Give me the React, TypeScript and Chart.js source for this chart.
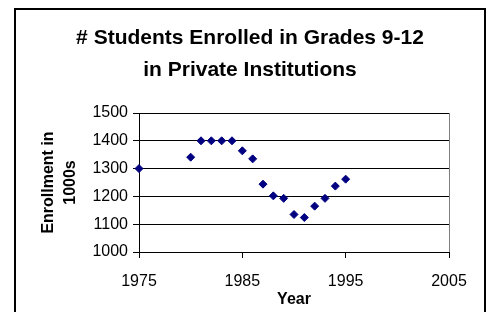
import React, { useEffect, useRef } from "react";
import { Chart, registerables } from "chart.js";

Chart.register(...registerables);

const years = [1975, 1980, 1981, 1982, 1983, 1984, 1985, 1986, 1987, 1988, 1989, 1990, 1991, 1992, 1993, 1994, 1995];
const enrollment = [1300, 1341, 1400, 1400, 1400, 1400, 1364, 1335, 1244, 1202, 1193, 1135, 1124, 1165, 1193, 1237, 1262];
const titleLines = ["# Students Enrolled in Grades 9-12", "in Private Institutions"];
const yTitleLines = ["Enrollment in", "1000s"];
const xTitle = "Year";
const xTicks = [1975, 1985, 1995, 2005];
const yTicks = [1000, 1100, 1200, 1300, 1400, 1500];

const FONT = "'Liberation Sans', Arial, sans-serif";

export default function App() {
  const ref = useRef<HTMLCanvasElement | null>(null);

  useEffect(() => {
    document.body.style.overflow = "hidden";
    const canvas = ref.current;
    if (!canvas) return;
    const chart = new Chart(canvas, {
      type: "scatter",
      data: {
        datasets: [
          {
            data: years.map((y, i) => ({ x: y, y: enrollment[i] })),
            backgroundColor: "#000080",
            borderColor: "#000080",
            borderWidth: 1,
            pointStyle: "rectRot",
            pointRadius: 4,
            pointHoverRadius: 4,
            clip: false,
          },
        ],
      },
      options: {
        animation: false,
        responsive: true,
        maintainAspectRatio: false,
        layout: { padding: { left: 51, right: 41, top: 0, bottom: 0 } },
        plugins: {
          legend: { display: false },
          tooltip: { enabled: false },
          title: {
            display: true,
            text: titleLines,
            color: "#000",
            font: { family: FONT, size: 21, weight: "bold", lineHeight: 32 / 21 },
            padding: { top: 22, bottom: 27 },
          },
        },
        scales: {
          x: {
            type: "linear",
            min: xTicks[0],
            max: xTicks[xTicks.length - 1],
            afterBuildTicks: (s: any) => {
              s.ticks = xTicks.map((v) => ({ value: v }));
            },
            afterFit: (s: any) => {
              s.height = 60;
            },
            ticks: {
              color: "#000",
              font: { family: FONT, size: 16 },
              padding: 14,
              callback: (v: any) => String(v),
            },
            grid: {
              color: (c: any) => (c.index === xTicks.length - 1 ? "#808080" : "rgba(0,0,0,0)"),
              tickColor: "#000",
              tickLength: 6,
              lineWidth: 1,
            },
            border: { color: "#000", width: 1 },
            title: {
              display: true,
              text: xTitle,
              color: "#000",
              font: { family: FONT, size: 16, weight: "bold" },
              padding: { top: 0, bottom: 3 },
            },
          },
          y: {
            min: yTicks[0],
            max: yTicks[yTicks.length - 1],
            afterBuildTicks: (s: any) => {
              s.ticks = yTicks.map((v) => ({ value: v }));
            },
            afterFit: (s: any) => {
              s.width = 88;
            },
            ticks: {
              color: "#000",
              font: { family: FONT, size: 16 },
              padding: 5,
              callback: (v: any) => String(v),
            },
            grid: {
              color: "#000",
              tickColor: "#000",
              tickLength: 6,
              lineWidth: 1,
            },
            border: { color: "#000", width: 1 },
            title: {
              display: true,
              text: yTitleLines,
              color: "#000",
              font: { family: FONT, size: 16, weight: "bold", lineHeight: 22 / 16 },
              padding: { top: -13, bottom: 0 },
            },
          },
        },
      },
    });
    return () => chart.destroy();
  }, []);

  return (
    <div>
      <div
        style={{
          position: "fixed",
          left: 0,
          top: 0,
          width: 490,
          height: 312,
          background: "#fff",
        }}
      >
        <canvas ref={ref} />
      </div>
      <div
        style={{
          position: "fixed",
          left: 14,
          top: 8,
          width: 468,
          height: 304,
          borderTop: "2px solid #000",
          borderLeft: "2px solid #000",
          borderRight: "2px solid #000",
          pointerEvents: "none",
        }}
      />
    </div>
  );
}
